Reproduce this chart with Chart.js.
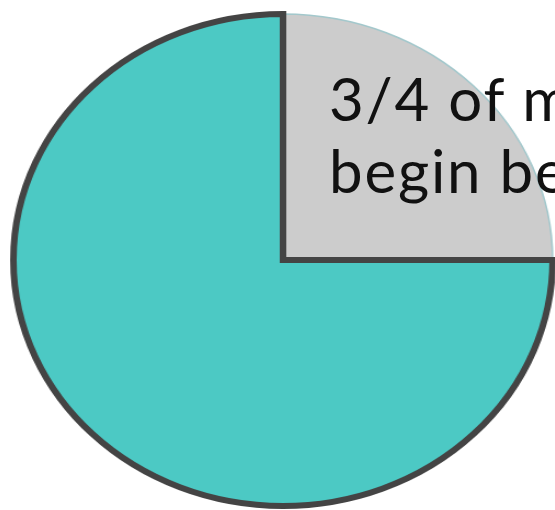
<!DOCTYPE html>
<html>
<head>
<meta charset="utf-8">
<script src="https://cdn.jsdelivr.net/npm/chart.js@4"></script>
<style>
  html, body { margin: 0; padding: 0; width: 555px; height: 510px; overflow: hidden; background: #fff; }
  #wrap { position: absolute; left: 23px; top: 0; width: 520px; height: 520px;
          transform-origin: 260px 260px; transform: scaleX(1.096); }
  #note { position: absolute; left: 329px; top: 62px; font-family: Lato, "Open Sans", sans-serif;
          font-size: 60px; line-height: 72px; letter-spacing: 1.8px; color: #111; white-space: nowrap; }
</style>
</head>
<body>
<div id="wrap"><canvas id="pie" width="520" height="520"></canvas></div>
<div id="note">3/4 of m<br>begin be</div>
<script>
// slices start at 12 o'clock and go clockwise
const labels = ["Before", "After"];
const values = [25, 75];
const fills = ["#cccccc", "#4cc9c4"];
const edges = ["#a3c8cc", "#444444"];
const edgeWidths = [1.5, 6];

new Chart(document.getElementById("pie"), {
    type: "pie",
    data: {
        labels: labels,
        datasets: [{
            data: values,
            backgroundColor: fills,
            borderColor: edges,
            borderWidth: edgeWidths,
            borderJoinStyle: "miter"
        }]
    },
    options: {
        responsive: false,
        animation: false,
        radius: 246,
        plugins: { legend: { display: false }, tooltip: { enabled: false } }
    }
});
</script>
</body>
</html>
